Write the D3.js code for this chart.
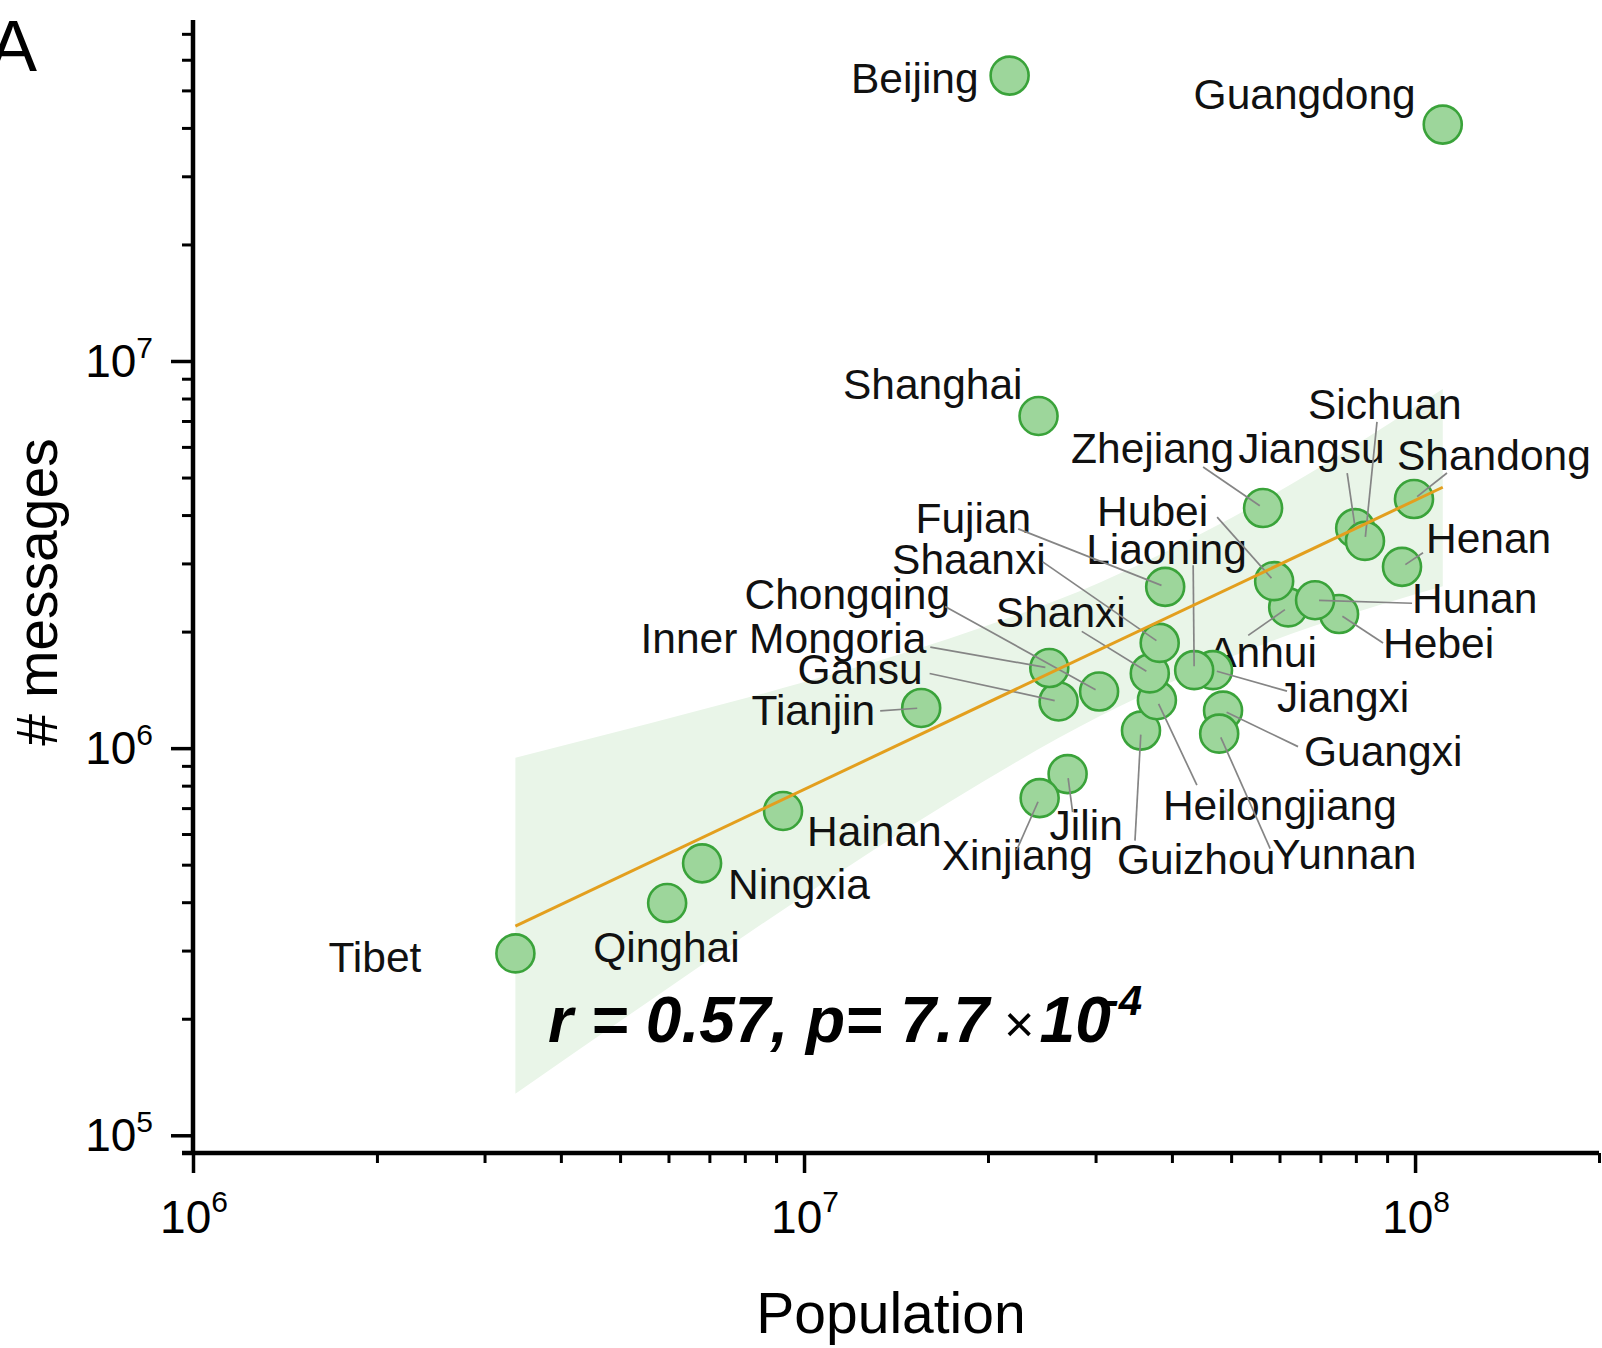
<!DOCTYPE html>
<html><head><meta charset="utf-8">
<script src="https://cdn.jsdelivr.net/npm/d3@7"></script>
<style>body{margin:0;background:#fff}svg{display:block}</style>
</head><body>
<svg id="chart" width="1602" height="1348"></svg>
<script>
// ---------------- data (draw order) ----------------
const provinces = ["Beijing","Guangdong","Shanghai","Zhejiang","Jiangsu","Sichuan","Shandong","Henan",
  "Anhui","Hebei","Hunan","Hubei","Fujian","Jiangxi","Liaoning","Guizhou","Heilongjiang","Shanxi","Shaanxi",
  "Guangxi","Yunnan","Chongqing","Gansu","Inner Mongoria","Tianjin","Jilin","Xinjiang","Hainan","Ningxia","Qinghai","Tibet"];
const population = [2.17e7,1.11e8,2.42e7,5.64e7,7.98e7,8.28e7,9.96e7,9.52e7,
  6.20e7,7.51e7,6.86e7,5.88e7,3.90e7,4.67e7,4.35e7,3.56e7,3.78e7,3.68e7,3.82e7,
  4.85e7,4.78e7,3.04e7,2.61e7,2.52e7,1.555e7,2.70e7,2.43e7,9.24e6,6.81e6,5.97e6,3.37e6];
const messages = [5.46e7,4.08e7,7.21e6,4.17e6,3.70e6,3.43e6,4.40e6,2.94e6,
  2.31e6,2.22e6,2.41e6,2.70e6,2.61e6,1.59e6,1.59e6,1.11e6,1.33e6,1.56e6,1.87e6,
  1.25e6,1.09e6,1.40e6,1.32e6,1.61e6,1.27e6,8.57e5,7.43e5,6.88e5,5.04e5,3.98e5,2.95e5];

const fitX = [3.37e6, 1.11e8];
const fitY = [3.47e5, 4.72e6];
const bandX  = [3.37e6, 5.6e6, 9.85e6, 1.73e7, 3.05e7, 5.37e7, 1.11e8];
const bandHi = [9.45e5, 1.16e6, 1.47e6, 1.92e6, 2.68e6, 4.18e6, 8.47e6];
const bandLo = [1.28e5, 2.23e5, 4.09e5, 7.26e5, 1.21e6, 1.80e6, 2.62e6];

const xMajor = [1e6, 1e7, 1e8];
const xMajorExp = ["6", "7", "8"];
const yMajor = [1e5, 1e6, 1e7];
const yMajorExp = ["5", "6", "7"];
const xMinor = [2e6,3e6,4e6,5e6,6e6,7e6,8e6,9e6,2e7,3e7,4e7,5e7,6e7,7e7,8e7,9e7,2e8];
const yMinor = [2e5,3e5,4e5,5e5,6e5,7e5,8e5,9e5,2e6,3e6,4e6,5e6,6e6,7e6,8e6,9e6,2e7,3e7,4e7,5e7,6e7,7e7];

const xTitle = "Population";
const yTitle = "# messages";
const panelLetter = "A";

// ---------------- label layout (pixel offsets from point) ----------------
const labelLayout = {
  "Beijing":        {a:"end",   dx:-31,  dy:17},
  "Guangdong":      {a:"end",   dx:-27,  dy:-16},
  "Shanghai":       {a:"end",   dx:-16,  dy:-17},
  "Zhejiang":       {a:"end",   dx:-29,  dy:-45,  l:[-60,-41]},
  "Jiangsu":        {a:"start", dx:-117, dy:-65,  l:[-8,-55]},
  "Sichuan":        {a:"start", dx:-57,  dy:-122, l:[12,-119]},
  "Shandong":       {a:"start", dx:-17,  dy:-29,  l:[33,-26]},
  "Henan":          {a:"start", dx:24,   dy:-14,  l:[21,-14]},
  "Hunan":          {a:"start", dx:97,   dy:13,   l:[97,3]},
  "Hebei":          {a:"start", dx:44,   dy:44,   l:[44,29]},
  "Hubei":          {a:"end",   dx:-66,  dy:-55,  l:[-57,-64]},
  "Liaoning":       {a:"start", dx:-108, dy:-106, l:[-1,-105]},
  "Fujian":         {a:"end",   dx:-134, dy:-54,  l:[-147,-58]},
  "Shaanxi":        {a:"end",   dx:-114, dy:-69,  l:[-117,-81]},
  "Shanxi":         {a:"end",   dx:-24,  dy:-46,  l:[-68,-42]},
  "Anhui":          {a:"start", dx:-80,  dy:60,   l:[-40,28]},
  "Jiangxi":        {a:"start", dx:64,   dy:42,   l:[74,21]},
  "Guangxi":        {a:"start", dx:81,   dy:55,   l:[75,36]},
  "Heilongjiang":   {a:"start", dx:6,    dy:120,  l:[40,85]},
  "Yunnan":         {a:"start", dx:53,   dy:135,  l:[51,115]},
  "Guizhou":        {a:"start", dx:-24,  dy:143,  l:[-6,110]},
  "Jilin":          {a:"start", dx:-18,  dy:66,   l:[5,38]},
  "Xinjiang":       {a:"start", dx:-98,  dy:72,   l:[-23,52]},
  "Chongqing":      {a:"end",   dx:-149, dy:-83,  l:[-154,-85]},
  "Inner Mongoria": {a:"end",   dx:-123, dy:-15,  l:[-119,-21]},
  "Gansu":          {a:"end",   dx:-136, dy:-17,  l:[-129,-28]},
  "Tianjin":        {a:"end",   dx:-46,  dy:17,   l:[-41,3]},
  "Hainan":         {a:"start", dx:24,   dy:35},
  "Ningxia":        {a:"start", dx:26,   dy:36},
  "Qinghai":        {a:"start", dx:-74,  dy:59},
  "Tibet":          {a:"end",   dx:-94,  dy:19}
};

// ---------------- drawing ----------------
const FONT = "'Liberation Sans', Arial, Helvetica, sans-serif";
const svg = d3.select("#chart").style("font-family", FONT);
const L = 193, R = 1599, T = 20, B = 1153;

const x = d3.scaleLog().domain([1e6, 2e8]).range([L, R]);
const y = d3.scaleLog().domain([9e4, 7.6e7]).range([B, T]);

const points = provinces.map((p, i) => ({name: p, px: x(population[i]), py: y(messages[i])}));

// confidence band
const band = bandX.map((v, i) => ({x: v, lo: bandLo[i], hi: bandHi[i]}));
svg.append("path").datum(band)
  .attr("fill", "#e9f5e8")
  .attr("d", d3.area().x(d => x(d.x)).y0(d => y(d.lo)).y1(d => y(d.hi)).curve(d3.curveMonotoneX));

// labels
const gLab = svg.append("g");
points.forEach(p => {
  const lay = labelLayout[p.name];
  gLab.append("text")
    .attr("x", p.px + lay.dx).attr("y", p.py + lay.dy)
    .attr("text-anchor", lay.a)
    .attr("font-size", 42.5).attr("fill", "#111")
    .text(p.name);
});

// circles
svg.append("g").selectAll("circle").data(points).join("circle")
  .attr("cx", d => d.px).attr("cy", d => d.py).attr("r", 19)
  .attr("fill", "#9dd69b").attr("stroke", "#3aa33a").attr("stroke-width", 2.6);

// leader lines
const gLead = svg.append("g").attr("stroke", "#858585").attr("stroke-width", 1.7);
points.forEach(p => {
  const lay = labelLayout[p.name];
  if (!lay.l) return;
  const sx = p.px + lay.l[0], sy = p.py + lay.l[1];
  const dx = p.px - sx, dy = p.py - sy, len = Math.hypot(dx, dy);
  const k = Math.max(0, (len - 4) / len);
  gLead.append("line").attr("x1", sx).attr("y1", sy)
    .attr("x2", sx + dx * k).attr("y2", sy + dy * k);
});

// fit line
svg.append("path").datum(fitX.map((v, i) => [v, fitY[i]]))
  .attr("fill", "none").attr("stroke", "#e39f1e").attr("stroke-width", 3)
  .attr("d", d3.line().x(d => x(d[0])).y(d => y(d[1])));

// axes
function styleAxis(g, w) {
  g.select(".domain").remove();
  g.selectAll(".tick line").attr("stroke", "#000").attr("stroke-width", w);
  g.selectAll(".tick text").remove();
}
svg.append("g").attr("transform", `translate(0,${B})`)
  .call(d3.axisBottom(x).tickValues(xMinor).tickSize(10).tickSizeOuter(0)).call(g => styleAxis(g, 3));
svg.append("g").attr("transform", `translate(0,${B})`)
  .call(d3.axisBottom(x).tickValues(xMajor).tickSize(20).tickSizeOuter(0)).call(g => styleAxis(g, 3.5));
svg.append("g").attr("transform", `translate(${L},0)`)
  .call(d3.axisLeft(y).tickValues(yMinor).tickSize(11).tickSizeOuter(0)).call(g => styleAxis(g, 3));
svg.append("g").attr("transform", `translate(${L},0)`)
  .call(d3.axisLeft(y).tickValues(yMajor).tickSize(22).tickSizeOuter(0)).call(g => styleAxis(g, 3.5));

svg.append("line").attr("x1", 182).attr("x2", R).attr("y1", B).attr("y2", B)
  .attr("stroke", "#000").attr("stroke-width", 4.5);
svg.append("line").attr("x1", L).attr("x2", L).attr("y1", T).attr("y2", B + 2)
  .attr("stroke", "#000").attr("stroke-width", 4.5);

// tick labels
xMajor.forEach((v, i) => {
  const t = svg.append("text").attr("x", x(v) + 1).attr("y", B + 80)
    .attr("text-anchor", "middle").attr("font-size", 46).attr("fill", "#000");
  t.append("tspan").text("10");
  t.append("tspan").attr("dy", -21).attr("font-size", 30).text(xMajorExp[i]);
});
yMajor.forEach((v, i) => {
  const t = svg.append("text").attr("x", 153).attr("y", y(v) + 16)
    .attr("text-anchor", "end").attr("font-size", 46).attr("fill", "#000");
  t.append("tspan").text("10");
  t.append("tspan").attr("dy", -19).attr("font-size", 30).text(yMajorExp[i]);
});

// axis titles
svg.append("text").attr("x", 891).attr("y", 1333).attr("text-anchor", "middle")
  .attr("font-size", 57).attr("fill", "#000").text(xTitle);
svg.append("text").attr("transform", "translate(57,592) rotate(-90)").attr("text-anchor", "middle")
  .attr("font-size", 57).attr("fill", "#000").text(yTitle);

// panel letter
svg.append("text").attr("x", -11).attr("y", 71).attr("font-size", 72).attr("fill", "#000").text(panelLetter);

// statistics annotation
const st = svg.append("text").attr("x", 548).attr("y", 1042)
  .attr("font-size", 64).attr("font-style", "italic").attr("font-weight", "bold").attr("fill", "#000");
st.append("tspan").text("r = 0.57, p= 7.7");
st.append("tspan").attr("font-weight", "normal").attr("font-size", 52).attr("dx", 14).text("\u00d7");
st.append("tspan").attr("dx", 6).text("10");
st.append("tspan").attr("font-size", 42).attr("dy", -27).attr("dx", -6).text("-4");
</script>
</body></html>
